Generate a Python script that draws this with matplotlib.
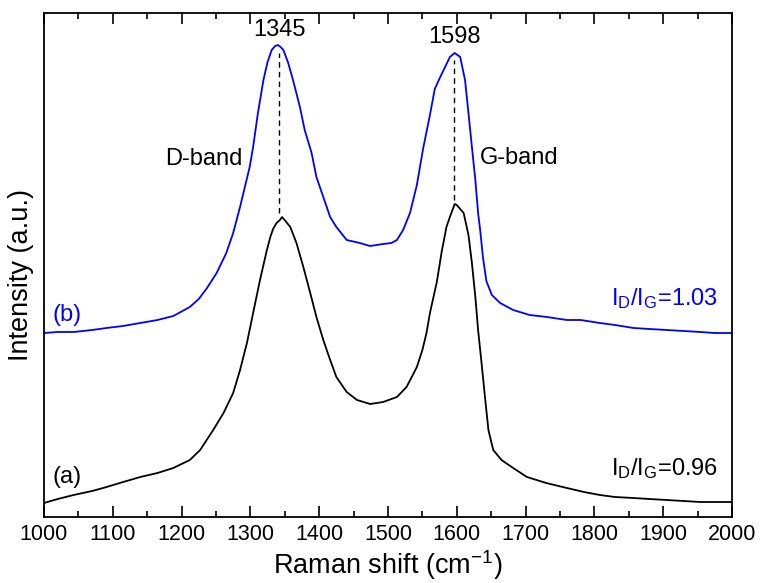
import numpy as np
import matplotlib.pyplot as plt
from matplotlib.ticker import MultipleLocator

plt.rcParams['font.family'] = ['Liberation Sans', 'DejaVu Sans']
plt.rcParams['mathtext.fontset'] = 'custom'
plt.rcParams['mathtext.rm'] = 'Liberation Sans'
plt.rcParams['mathtext.it'] = 'Liberation Sans'

# Spectrum (b)
shift_b = [1000, 1020, 1043, 1070, 1091, 1115, 1140, 1165, 1188, 1212, 1225, 1237,
           1251, 1265, 1275, 1285, 1292, 1299, 1304, 1311, 1319, 1325, 1331, 1336,
           1340, 1344, 1348, 1355, 1362, 1372, 1379, 1389, 1396, 1406, 1416, 1425,
           1440, 1459, 1474, 1493, 1505, 1513, 1522, 1532, 1542, 1551, 1561, 1568,
           1576, 1583, 1590, 1597, 1605, 1612, 1617, 1622, 1627, 1631, 1634, 1638,
           1643, 1651, 1663, 1682, 1706, 1731, 1760, 1780, 1808, 1830, 1857, 1880,
           1905, 1930, 1954, 1975, 2000]
int_b = [184, 185, 185, 187, 189, 191, 194, 197, 201, 210, 218, 229,
         244, 264, 284, 310, 330, 350, 370, 404, 437, 455, 467, 471,
         472, 470, 467, 454, 437, 410, 387, 364, 340, 320, 300, 290,
         277, 274, 271, 273, 274, 277, 287, 304, 332, 368, 402, 428,
         440, 450, 460, 464, 460, 437, 404, 370, 337, 304, 287, 260,
         236, 222, 214, 207, 202, 200, 197, 197, 194, 192, 189, 188,
         187, 186, 185, 184, 184]

# Spectrum (a)
shift_a = [1000, 1020, 1043, 1070, 1091, 1115, 1140, 1165, 1188, 1212, 1227, 1246,
           1261, 1275, 1285, 1295, 1304, 1314, 1319, 1324, 1329, 1333, 1338, 1343,
           1346, 1351, 1358, 1367, 1377, 1387, 1396, 1406, 1416, 1425, 1440, 1455,
           1474, 1493, 1513, 1527, 1542, 1550, 1556, 1561, 1571, 1578, 1585, 1590,
           1597, 1600, 1605, 1610, 1617, 1622, 1627, 1631, 1636, 1641, 1646, 1653,
           1665, 1682, 1702, 1730, 1760, 1785, 1808, 1830, 1857, 1880, 1905, 1930,
           1954, 1975, 2000]
int_a = [14, 18, 22, 26, 30, 35, 40, 44, 49, 57, 67, 87,
         104, 124, 147, 174, 204, 237, 252, 267, 280, 288, 294, 297,
         300, 296, 290, 274, 250, 224, 200, 177, 157, 140, 125, 117,
         113, 115, 120, 130, 150, 167, 184, 204, 235, 265, 290, 300,
         313, 312, 308, 304, 282, 254, 220, 187, 154, 120, 87, 67,
         57, 49, 40, 34, 29, 25, 22, 20, 19, 18, 17, 16,
         15, 15, 15]

# peak markers: position, dash start/end, label
peak_pos = [1342, 1596]
peak_top = [464, 457]
peak_bot = [304, 317]
peak_labels = ['1345', '1598']

fig = plt.figure(figsize=(7.62, 5.83), dpi=100)
ax = fig.add_axes([0.0577, 0.1132, 0.9029, 0.8645])

ax.plot(shift_a, int_a, color='black', lw=1.3)
ax.plot(shift_b, int_b, color='#0000ff', lw=1.3)

for x0, y1, y0, lab in zip(peak_pos, peak_top, peak_bot, peak_labels):
    ax.plot([x0, x0], [y0, y1], color='black', lw=1, ls=(0, (4, 3)))
    ax.text(x0, y1 + 12, lab, ha='center', va='bottom', fontsize=17)

ax.text(1289, 358, 'D-band', ha='right', va='center', fontsize=17)
ax.text(1634, 359, 'G-band', ha='left', va='center', fontsize=17)
ax.text(1012, 196, '(b)', color='#0000ff', ha='left', va='baseline', fontsize=17)
ax.text(1012, 34, '(a)', color='black', ha='left', va='baseline', fontsize=17)
ax.text(1980, 212, r'$\mathregular{I_D/I_G}$=1.03', color='#0000ff',
        ha='right', va='baseline', fontsize=17)
ax.text(1980, 42, r'$\mathregular{I_D/I_G}$=0.96', color='black',
        ha='right', va='baseline', fontsize=17)

ax.set_xlim(1000, 2000)
ax.set_ylim(0, 504)
ax.xaxis.set_major_locator(MultipleLocator(100))
ax.xaxis.set_minor_locator(MultipleLocator(50))
ax.tick_params(axis='x', which='both', direction='in', top=True, labelsize=15.5,
               width=1.2, pad=5)
ax.tick_params(axis='x', which='major', length=8)
ax.tick_params(axis='x', which='minor', length=4.5)
ax.set_yticks([])
for s in ax.spines.values():
    s.set_linewidth(1.3)

ax.set_xlabel(r'Raman shift (cm$^{\mathregular{-1}}$)', fontsize=19.5, labelpad=2)
ax.set_ylabel('Intensity (a.u.)', fontsize=19.5)
ax.yaxis.set_label_coords(-0.015, 0.48)

fig.savefig('out.png', dpi=100)
